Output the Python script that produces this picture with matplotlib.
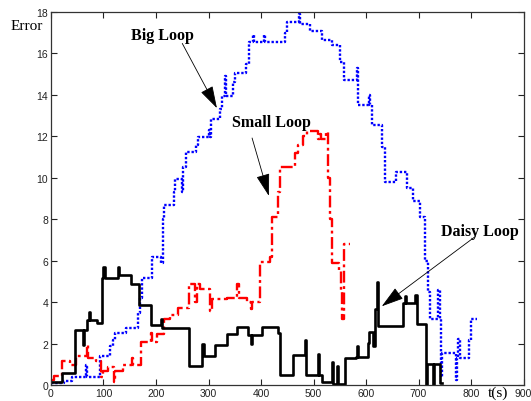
import matplotlib
matplotlib.use("Agg")
import matplotlib.pyplot as plt

# ---- data ----
big_t = [0, 25, 40, 66, 68, 93, 112, 118, 122, 143, 166, 169, 173, 192, 210, 213, 216, 234, 236, 250, 252,
         257, 276, 280, 300, 302, 305, 322, 326, 332, 334, 347, 350, 372, 377, 384, 386, 405, 407, 446, 449,
         473, 475, 493, 516, 535, 550, 558, 583, 585, 605, 607, 611, 630, 636, 657, 678, 690, 703, 712, 718,
         722, 738, 740, 743, 745, 771, 773, 775, 778, 780, 796, 800, 811]
big_v = [0.1, 0.2, 0.4, 1.0, 0.4, 1.4, 1.9, 2.2, 2.5, 2.75, 3.5, 4.2, 5.15, 6.2, 5.9, 8.0, 8.7, 9.3, 9.95, 9.3, 10.5,
         11.25, 11.6, 11.95, 12.3, 11.95, 12.85, 13.3, 13.95, 14.9, 13.95, 14.6, 15.05, 15.5, 16.55, 16.9, 16.55, 16.9, 16.55, 17.0, 17.5,
         17.9, 17.4, 17.1, 16.65, 16.42, 15.6, 14.7, 15.3, 13.5, 14.0, 13.5, 12.55, 11.5, 9.8, 10.3, 9.5, 8.9, 8.1, 6.0, 4.5,
         3.2, 4.6, 3.2, 0.4, 1.58, 0.25, 1.3, 2.25, 1.3, 1.3, 2.2, 3.2, 3.2]

small_t = [0, 5, 21, 36, 48, 68, 70, 85, 95, 100, 108, 120, 122, 137, 155, 157, 172, 190, 192, 202, 215, 227,
           242, 262, 275, 278, 284, 303, 306, 335, 355, 358, 373, 380, 383, 398, 417, 420, 432, 436, 465, 470,
           480, 488, 508, 513, 515, 524, 528, 531, 535, 549, 552, 555, 558, 570]
small_v = [0.25, 0.43, 1.15, 1.0, 1.4, 1.93, 1.3, 1.15, 0.4, 0.67, 0.9, 0.15, 0.67, 0.96, 1.3, 0.96, 2.1, 2.5, 2.1, 2.46, 3.2, 3.37,
           3.73, 4.86, 4.0, 4.86, 4.62, 3.6, 4.18, 4.22, 4.9, 4.2, 4.0, 3.7, 4.0, 5.95, 6.2, 8.1, 9.3, 10.5, 11.2, 11.6,
           12.0, 12.25, 11.85, 12.1, 11.85, 12.2, 10.0, 8.0, 5.9, 5.5, 4.5, 3.2, 6.8, 6.8]

daisy_t = [0, 21, 45, 61, 63, 68, 72, 74, 88, 98, 100, 102, 128, 130, 152, 168, 190, 210, 212, 240, 262, 288, 291,
           313, 335, 355, 375, 380, 383, 401, 432, 437, 461, 484, 486, 508, 510, 516, 535, 537, 545, 547, 560, 580,
           582, 584, 604, 606, 614, 618, 620, 622, 670, 675, 677, 694, 697, 714, 716, 728, 730, 741, 745]
daisy_v = [0.15, 0.6, 2.65, 1.95, 2.65, 3.13, 3.55, 3.13, 3.0, 5.15, 5.7, 5.15, 5.7, 5.3, 4.9, 3.85, 2.9, 3.2, 2.75, 2.75, 0.94, 1.98, 1.4,
           1.93, 2.46, 2.8, 2.41, 1.98, 2.41, 2.8, 2.5, 0.5, 1.45, 2.2, 0.5, 1.5, 0.5, 0.15, 1.1, 0.05, 0.95, 0.05, 1.3, 1.35,
           1.9, 1.35, 2.03, 2.55, 1.9, 3.7, 4.96, 2.85, 3.95, 4.3, 3.95, 4.35, 2.94, 0.0, 1.02, 0.0, 1.02, 0.1, 0.1]

x_ticks = [0, 100, 200, 300, 400, 500, 600, 700, 800, 900]
y_ticks = [0, 2, 4, 6, 8, 10, 12, 14, 16, 18]

fig = plt.figure(figsize=(5.31, 4.02), dpi=100)
ax = fig.add_axes([0.096, 0.039, 0.890, 0.929])

ax.plot(big_t, big_v, drawstyle='steps-post', color='#0000ff', linestyle=(0, (1, 0.8)), linewidth=1.7)
ax.plot(small_t, small_v, drawstyle='steps-post', color='#ff0000', linestyle=(0, (5, 1.5, 1.2, 1.5)), linewidth=1.7)
ax.plot(daisy_t, daisy_v, drawstyle='steps-post', color='black', linestyle='-', linewidth=1.9)

ax.set_xlim(0, 900)
ax.set_ylim(0, 18)
ax.set_xticks(x_ticks)
ax.set_yticks(y_ticks)
ax.tick_params(direction='in', top=True, right=True, length=4, width=0.8,
               labelsize=7.5, colors='#222222', pad=2)
for lbl in ax.get_xticklabels() + ax.get_yticklabels():
    lbl.set_family('Liberation Sans')
for s in ax.spines.values():
    s.set_linewidth(0.9)
    s.set_color('#333333')

arrow = dict(arrowstyle='-|>,head_length=1.0,head_width=0.3', color='black', lw=0.6,
             mutation_scale=14, shrinkA=0, shrinkB=0)
tkw = dict(family='Liberation Serif', fontweight='bold', fontsize=11.5, ha='center', va='center')
ax.text(212, 16.9, 'Big Loop', **tkw)
ax.annotate('', xy=(316, 13.36), xytext=(250, 16.48), arrowprops=arrow)
ax.text(420, 12.69, 'Small Loop', **tkw)
ax.annotate('', xy=(415, 9.13), xytext=(383, 11.92), arrowprops=arrow)
ax.text(817, 7.45, 'Daisy Loop', **tkw)
ax.annotate('', xy=(630, 3.81), xytext=(808, 7.17), arrowprops=arrow)

fig.text(0.05, 0.935, 'Error', family='Liberation Serif', fontsize=11, ha='center', va='center')
fig.text(0.938, 0.004, 't(s)', family='Liberation Serif', fontsize=11, ha='center', va='bottom')

fig.savefig('out.png', dpi=100)
